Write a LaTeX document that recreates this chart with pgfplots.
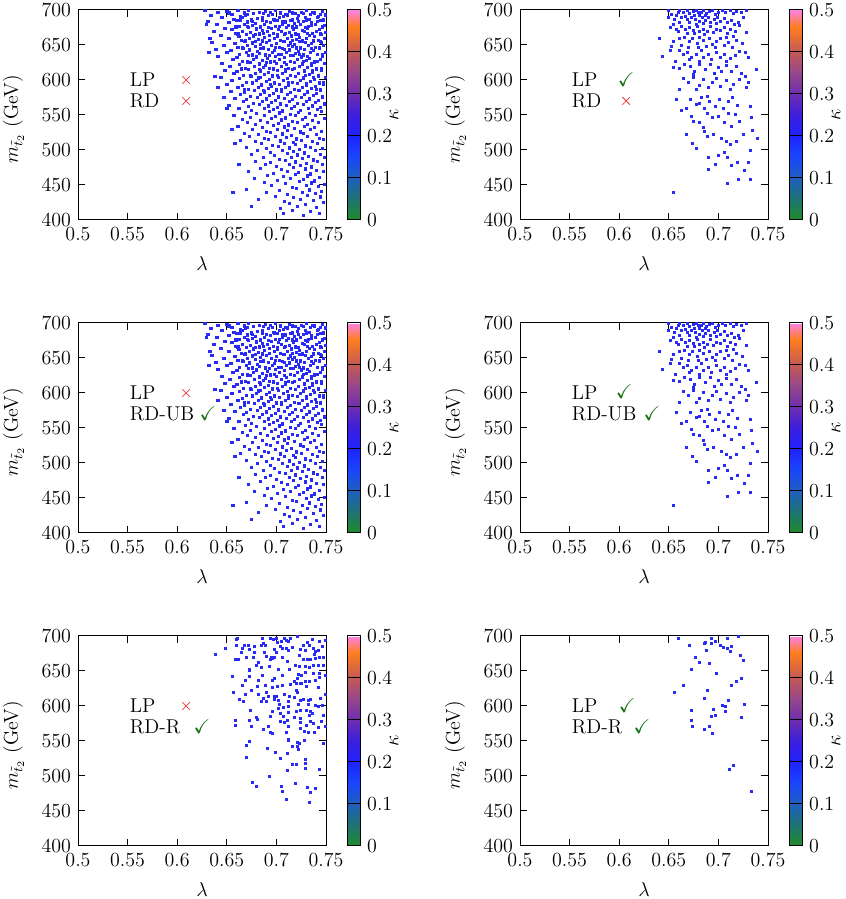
\documentclass[12pt,border=0pt]{standalone}
\usepackage{pgfplots}
\pgfplotsset{compat=1.18}
\usepackage{pgfplotstable}
\usepackage{amssymb}
\definecolor{ptblue}{RGB}{40,42,245}
\definecolor{xred}{RGB}{235,60,60}
\definecolor{ckgreen}{RGB}{20,115,20}
\pgfplotsset{colormap={kappa}{rgb255(0)=(30,140,40) rgb255(5)=(30,115,115) rgb255(10)=(30,95,190)
  rgb255(15)=(25,70,250) rgb255(20)=(30,35,255) rgb255(25)=(60,30,220) rgb255(30)=(110,45,175)
  rgb255(35)=(150,70,140) rgb255(40)=(195,90,85) rgb255(46)=(255,125,30) rgb255(50)=(255,130,230)}}
\pgfplotsset{pan/.style={anchor=south west, scale only axis, width=148.8pt, height=126pt,
    xmin=0.5, xmax=0.75, ymin=400, ymax=700,
    xtick={0.5,0.55,0.6,0.65,0.7,0.75}, xticklabels={0.5,0.55,0.6,0.65,0.7,0.75},
    ytick={400,450,500,550,600,650,700},
    tick align=inside, major tick length=4.2pt,
    axis line style={line width=0.6pt}, tick style={line width=0.6pt, black},
    xlabel={$\lambda$}, ylabel={$m_{\tilde t_2}$\ (GeV)},
    xlabel style={at={(axis description cs:0.5,-0.208)}, anchor=center},
    ylabel style={at={(axis description cs:-0.26,0.48)}, anchor=center},
    colorbar, colormap name=kappa, point meta min=0, point meta max=0.5,
    colorbar style={at={(parent axis.north east)}, anchor=north west, xshift=4.2pt,
      scale only axis, width=7.8pt, height=126pt,
      ytick={0,0.1,0.2,0.3,0.4,0.5}, yticklabels={0,0.1,0.2,0.3,0.4,0.5},
      ytick pos=right, yticklabel pos=right, tick align=inside, major tick length=7.8pt,
      axis line style={line width=0.6pt}, tick style={line width=0.6pt, black},
      ylabel={$\kappa$}, ylabel style={at={(axis description cs:3.6,0.5)}, anchor=center}}},
  dots/.style={only marks, mark=square*, mark size=#1, color=ptblue},
  crs/.style={only marks, mark=x, mark size=3.2pt, color=xred, mark options={line width=0.5pt}},
  chk/.style={only marks, mark=text, text mark={\textcolor{ckgreen}{$\checkmark$}}, color=ckgreen}}
\tikzset{lab/.style={anchor=west, inner sep=0pt}}

% dense scan (panels 1 and 3)
\pgfplotstableread[row sep=\\]{x y\\
0.628 699\\0.641 697\\0.650 698\\0.661 700\\0.668 696\\0.672 699\\0.683 697\\0.689 698\\0.699 700\\0.704 696\\0.713 698\\0.725 697\\0.730 699\\0.738 696\\0.746 698\\
0.634 692\\0.655 694\\0.664 691\\0.669 693\\0.677 695\\0.692 692\\0.696 694\\0.707 691\\0.711 693\\0.719 695\\0.722 692\\0.734 694\\0.742 691\\0.749 693\\
0.645 689\\0.657 687\\0.666 690\\0.675 686\\0.681 688\\0.686 690\\0.697 687\\0.703 689\\0.716 686\\0.721 688\\0.729 690\\0.733 687\\0.741 689\\0.747 686\\
0.631 684\\0.652 682\\0.660 685\\0.671 683\\0.679 681\\0.690 684\\0.694 682\\0.701 685\\0.709 683\\0.718 681\\0.727 684\\0.735 682\\0.744 685\\
0.640 679\\0.663 677\\0.668 680\\0.676 678\\0.684 676\\0.688 679\\0.699 677\\0.706 680\\0.712 678\\0.720 676\\0.724 679\\0.732 677\\0.739 680\\0.748 678\\
0.648 674\\0.655 672\\0.672 675\\0.680 673\\0.686 671\\0.695 674\\0.702 672\\0.710 675\\0.717 673\\0.726 671\\0.731 674\\0.743 672\\
0.637 669\\0.659 667\\0.666 670\\0.674 668\\0.683 666\\0.691 669\\0.697 667\\0.705 670\\0.713 668\\0.719 666\\0.728 669\\0.736 667\\0.740 670\\0.749 668\\
0.644 664\\0.662 662\\0.670 665\\0.677 663\\0.688 661\\0.693 664\\0.701 662\\0.708 665\\0.715 663\\0.723 661\\0.733 664\\0.738 662\\0.745 665\\
0.652 659\\0.665 657\\0.673 660\\0.682 658\\0.686 656\\0.698 659\\0.704 657\\0.711 660\\0.720 658\\0.726 656\\0.730 659\\0.742 657\\0.748 660\\
0.635 654\\0.658 652\\0.668 655\\0.676 653\\0.684 651\\0.690 654\\0.700 652\\0.707 655\\0.714 653\\0.718 651\\0.729 654\\0.735 652\\0.744 655\\
0.647 649\\0.661 647\\0.671 650\\0.679 648\\0.687 646\\0.695 649\\0.703 647\\0.712 650\\0.716 648\\0.724 646\\0.732 649\\0.739 647\\0.747 650\\
0.639 644\\0.654 642\\0.667 645\\0.673 643\\0.681 641\\0.692 644\\0.698 642\\0.706 645\\0.713 643\\0.722 641\\0.728 644\\0.737 642\\0.743 645\\
0.650 639\\0.663 637\\0.670 640\\0.683 638\\0.689 636\\0.696 639\\0.705 637\\0.710 640\\0.719 638\\0.727 636\\0.734 639\\0.741 637\\0.749 640\\
0.641 634\\0.660 632\\0.672 635\\0.680 633\\0.691 631\\0.699 634\\0.708 632\\0.717 635\\0.725 633\\0.733 631\\0.746 634\\
0.656 629\\0.666 627\\0.677 630\\0.686 628\\0.694 626\\0.703 629\\0.714 627\\0.721 630\\0.730 628\\0.738 626\\0.744 629\\
0.645 624\\0.663 622\\0.674 625\\0.683 623\\0.689 621\\0.700 624\\0.710 622\\0.718 625\\0.726 623\\0.735 621\\0.748 624\\
0.653 619\\0.669 617\\0.678 620\\0.687 618\\0.697 616\\0.705 619\\0.712 617\\0.723 620\\0.731 618\\0.740 616\\
0.648 614\\0.660 612\\0.672 615\\0.684 613\\0.692 611\\0.701 614\\0.709 612\\0.716 615\\0.728 613\\0.736 611\\0.745 614\\
0.657 609\\0.667 607\\0.679 610\\0.688 608\\0.696 606\\0.706 609\\0.714 607\\0.722 610\\0.733 608\\0.742 606\\
0.644 604\\0.663 602\\0.675 605\\0.682 603\\0.693 601\\0.702 604\\0.711 602\\0.719 605\\0.727 603\\0.738 601\\0.749 604\\
0.655 599\\0.670 597\\0.680 600\\0.690 598\\0.698 596\\0.707 599\\0.716 597\\0.724 600\\0.734 598\\0.743 596\\
0.650 594\\0.666 592\\0.676 595\\0.685 593\\0.695 591\\0.703 594\\0.712 592\\0.721 595\\0.730 593\\0.739 591\\0.747 594\\
0.661 589\\0.672 587\\0.682 590\\0.692 588\\0.700 586\\0.709 589\\0.718 587\\0.726 590\\0.735 588\\0.744 586\\
0.654 584\\0.668 582\\0.678 585\\0.688 583\\0.697 581\\0.705 584\\0.714 582\\0.723 585\\0.731 583\\0.740 581\\
0.664 579\\0.674 577\\0.684 580\\0.693 578\\0.702 576\\0.711 579\\0.719 577\\0.728 580\\0.737 578\\0.746 576\\
0.658 574\\0.670 572\\0.681 575\\0.690 573\\0.699 571\\0.708 574\\0.716 572\\0.725 575\\0.733 573\\0.742 571\\
0.667 569\\0.677 567\\0.686 570\\0.695 568\\0.704 566\\0.713 569\\0.721 567\\0.730 570\\0.739 568\\0.748 566\\
0.652 564\\0.672 562\\0.683 565\\0.692 563\\0.701 561\\0.710 564\\0.718 562\\0.727 565\\0.736 563\\0.744 561\\
0.662 559\\0.675 557\\0.688 560\\0.697 558\\0.706 556\\0.715 559\\0.724 557\\0.732 560\\0.741 558\\
0.669 554\\0.680 552\\0.693 555\\0.703 553\\0.714 551\\0.722 554\\0.733 552\\0.745 555\\
0.657 549\\0.674 547\\0.688 550\\0.699 548\\0.709 546\\0.719 549\\0.729 547\\0.739 550\\
0.666 544\\0.684 542\\0.695 545\\0.705 543\\0.716 541\\0.726 544\\0.736 542\\0.748 545\\
0.671 539\\0.679 537\\0.691 540\\0.702 538\\0.712 536\\0.721 539\\0.731 537\\0.742 540\\
0.661 534\\0.686 532\\0.697 535\\0.708 533\\0.718 531\\0.728 534\\0.738 532\\
0.676 529\\0.690 527\\0.701 530\\0.711 528\\0.724 526\\0.734 529\\0.745 527\\
0.668 524\\0.682 522\\0.694 525\\0.706 523\\0.715 521\\0.727 524\\0.740 522\\
0.673 519\\0.688 517\\0.699 520\\0.710 518\\0.720 516\\0.731 519\\0.743 517\\
0.664 514\\0.679 512\\0.692 515\\0.704 513\\0.717 511\\0.725 514\\0.736 512\\0.747 515\\
0.685 509\\0.696 507\\0.708 510\\0.719 508\\0.729 506\\0.741 509\\
0.670 504\\0.690 502\\0.702 505\\0.713 503\\0.723 501\\0.734 504\\0.746 502\\
0.681 499\\0.694 497\\0.706 500\\0.717 498\\0.728 496\\0.739 499\\
0.675 494\\0.698 492\\0.711 495\\0.721 493\\0.732 491\\0.744 494\\
0.687 489\\0.703 487\\0.715 490\\0.726 488\\0.737 486\\0.748 489\\
0.679 484\\0.694 482\\0.709 485\\0.719 483\\0.730 481\\0.741 484\\
0.689 479\\0.700 477\\0.713 480\\0.724 478\\0.735 476\\0.746 479\\
0.684 474\\0.705 472\\0.717 475\\0.729 473\\0.740 471\\
0.672 469\\0.697 467\\0.711 470\\0.722 468\\0.734 466\\0.747 469\\
0.691 464\\0.707 462\\0.719 465\\0.731 463\\0.743 461\\
0.678 459\\0.701 457\\0.714 460\\0.727 458\\0.738 456\\
0.688 454\\0.709 452\\0.723 455\\0.735 453\\0.748 451\\
0.695 449\\0.716 447\\0.730 450\\0.742 448\\
0.670 444\\0.703 442\\0.720 445\\0.733 443\\0.745 441\\
0.690 439\\0.711 437\\0.726 440\\0.739 438\\
0.699 434\\0.717 432\\0.731 435\\0.744 433\\
0.682 429\\0.708 427\\0.724 430\\0.737 428\\
0.713 424\\0.729 422\\0.747 425\\
0.675 419\\0.704 417\\0.721 420\\0.740 418\\
0.716 414\\0.734 412\\0.707 409\\0.727 407\\0.743 410\\
0.656 440\\0.662 480\\0.658 510\\0.655 530\\0.650 560\\0.647 575\\0.641 590\\0.638 605\\0.632 640\\0.633 660\\0.627 700\\0.629 680\\
0.652 696\\0.671 694\\0.687 695\\0.694 697\\0.709 694\\0.716 696\\0.727 695\\0.736 697\\0.744 694\\
0.664 686\\0.676 684\\0.686 685\\0.698 686\\0.706 683\\0.714 685\\0.722 684\\0.730 686\\0.741 684\\
0.659 676\\0.671 677\\0.692 675\\0.703 677\\0.716 676\\0.729 675\\0.735 678\\0.746 676\\
0.661 666\\0.679 665\\0.687 667\\0.701 665\\0.709 667\\0.722 665\\0.731 667\\0.744 666\\
0.669 656\\0.679 655\\0.693 657\\0.708 655\\0.716 657\\0.723 655\\0.737 656\\0.745 654\\
0.666 646\\0.684 645\\0.699 647\\0.708 644\\0.720 646\\0.735 645\\0.743 647\\
0.676 636\\0.693 635\\0.702 637\\0.714 635\\0.723 637\\0.731 634\\0.746 637\\
0.671 626\\0.690 625\\0.698 627\\0.708 625\\0.727 627\\0.735 624\\0.741 627\\
0.665 616\\0.683 615\\0.693 617\\0.709 615\\0.718 617\\0.736 614\\0.745 617\\
0.674 606\\0.684 604\\0.701 607\\0.719 605\\0.729 607\\0.737 604\\
0.676 596\\0.694 594\\0.712 597\\0.730 595\\0.747 597\\
0.668 586\\0.687 585\\0.705 587\\0.722 585\\0.740 587\\
}\dataA

% medium scan (panels 2 and 4)
\pgfplotstableread[row sep=\\]{x y\\
0.650 699\\0.653 694\\0.660 696\\0.661 699\\0.665 697\\0.669 699\\0.671 695\\0.675 698\\0.678 700\\0.680 696\\0.683 697\\0.685 700\\0.688 695\\0.691 698\\0.694 699\\0.697 694\\0.700 697\\0.704 700\\0.707 696\\0.712 699\\0.715 695\\0.718 698\\0.723 696\\0.728 700\\0.681 693\\0.687 692\\0.676 692\\0.667 691\\0.658 692\\
0.650 689\\0.656 686\\0.663 689\\0.669 686\\0.673 690\\0.677 687\\0.681 684\\0.684 689\\0.687 685\\0.690 690\\0.692 683\\0.696 687\\0.699 690\\0.702 684\\0.706 688\\0.709 682\\0.713 685\\0.716 680\\0.720 683\\0.725 690\\0.671 682\\0.678 680\\0.685 681\\0.698 681\\0.661 682\\0.655 680\\
0.652 675\\0.658 673\\0.663 677\\0.667 672\\0.671 675\\0.675 671\\0.679 676\\0.681 669\\0.685 673\\0.689 670\\0.692 676\\0.695 668\\0.698 673\\0.702 671\\0.706 675\\0.709 667\\0.712 672\\0.717 669\\0.721 678\\0.728 668\\0.669 666\\0.676 666\\0.686 665\\0.660 669\\0.640 660\\
0.653 648\\0.655 655\\0.661 659\\0.666 661\\0.671 655\\0.674 659\\0.679 653\\0.681 661\\0.685 656\\0.691 659\\0.694 651\\0.698 655\\0.702 660\\0.706 650\\0.710 654\\0.714 647\\0.718 657\\0.724 653\\0.680 647\\0.688 648\\0.670 646\\0.663 650\\0.697 647\\0.708 661\\0.715 662\\
0.652 642\\0.661 643\\0.665 636\\0.669 640\\0.673 632\\0.678 637\\0.683 642\\0.685 632\\0.690 636\\0.693 629\\0.698 640\\0.702 632\\0.706 637\\0.712 631\\0.717 635\\0.721 641\\0.727 639\\0.730 632\\0.643 634\\0.657 627\\0.671 629\\0.681 627\\0.708 627\\
0.655 618\\0.661 616\\0.666 623\\0.672 620\\0.676 612\\0.681 622\\0.687 615\\0.692 623\\0.696 610\\0.700 618\\0.703 612\\0.708 621\\0.713 613\\0.718 620\\0.723 610\\0.727 605\\0.738 615\\0.675 608\\
0.665 602\\0.670 597\\0.675 604\\0.681 593\\0.685 601\\0.690 589\\0.694 596\\0.698 603\\0.702 591\\0.708 599\\0.712 586\\0.715 594\\0.721 601\\0.728 590\\0.730 596\\0.661 587\\0.658 572\\0.678 586\\
0.663 557\\0.668 560\\0.672 572\\0.678 565\\0.683 575\\0.689 577\\0.691 570\\0.697 563\\0.701 573\\0.705 560\\0.710 569\\0.714 575\\0.719 564\\0.732 563\\0.681 567\\0.686 560\\0.673 548\\
0.675 541\\0.681 539\\0.685 532\\0.689 552\\0.694 546\\0.700 548\\0.706 539\\0.710 553\\0.713 534\\0.717 551\\0.721 541\\0.733 546\\0.668 523\\
0.674 510\\0.678 503\\0.686 526\\0.689 520\\0.695 523\\0.703 516\\0.708 512\\0.712 508\\0.718 513\\0.725 523\\0.734 528\\0.739 516\\0.732 499\\
0.690 489\\0.690 473\\0.697 480\\0.700 493\\0.706 496\\0.709 489\\0.713 478\\0.719 482\\0.726 471\\0.730 483\\0.709 453\\0.720 458\\0.732 458\\0.655 439\\
}\dataB

% sparse scan (panel 5)
\pgfplotstableread[row sep=\\]{x y\\
0.661 697\\0.660 695\\0.686 697\\0.694 696\\0.697 695\\0.700 697\\0.708 697\\0.710 694\\0.714 696\\0.721 699\\0.731 691\\0.736 695\\0.743 693\\0.749 694\\0.687 690\\0.705 692\\0.712 692\\0.701 691\\
0.649 683\\0.668 686\\0.672 686\\0.660 687\\0.666 682\\0.673 681\\0.678 685\\0.685 686\\0.689 687\\0.704 685\\0.706 682\\0.710 683\\0.712 679\\0.716 684\\0.724 681\\0.727 686\\0.729 679\\0.733 687\\0.737 682\\0.739 678\\0.742 680\\0.746 685\\0.638 674\\0.665 677\\0.678 677\\0.688 677\\0.700 677\\0.698 681\\0.738 674\\
0.659 666\\0.662 667\\0.670 669\\0.677 670\\0.682 663\\0.690 671\\0.695 669\\0.696 668\\0.694 666\\0.698 670\\0.706 670\\0.711 664\\0.723 672\\0.727 666\\0.731 666\\0.734 667\\0.739 668\\0.743 669\\0.747 669\\0.719 658\\0.723 657\\0.729 657\\0.733 655\\0.737 658\\0.742 658\\0.747 658\\0.680 658\\0.685 655\\0.693 657\\0.673 653\\0.673 651\\
0.702 653\\0.713 652\\0.729 648\\0.737 647\\0.743 647\\0.749 644\\0.722 645\\0.725 644\\0.706 644\\0.698 640\\0.686 644\\0.673 642\\0.656 643\\0.669 637\\0.682 636\\0.696 636\\0.718 635\\0.721 639\\0.724 633\\0.729 635\\0.733 635\\0.739 636\\0.743 641\\0.714 631\\0.720 632\\0.725 632\\
0.666 630\\0.681 628\\0.689 629\\0.696 626\\0.701 628\\0.706 630\\0.730 628\\0.742 627\\0.657 620\\0.675 622\\0.682 617\\0.690 619\\0.698 614\\0.700 614\\0.708 617\\0.721 619\\0.720 622\\0.713 614\\0.718 612\\0.669 616\\0.663 609\\0.667 606\\0.687 611\\0.692 614\\0.698 610\\0.724 608\\0.727 609\\0.732 608\\0.734 609\\0.744 611\\0.749 616\\0.685 606\\0.690 606\\0.702 608\\0.712 607\\
0.703 602\\0.707 598\\0.712 600\\0.722 602\\0.732 602\\0.739 601\\0.742 600\\0.746 601\\0.674 594\\0.696 593\\0.702 596\\0.712 591\\0.734 593\\0.736 590\\0.720 592\\0.724 594\\0.730 594\\0.704 589\\0.707 585\\0.694 585\\0.680 584\\0.724 583\\0.733 587\\0.747 587\\
0.659 579\\0.659 573\\0.673 579\\0.675 571\\0.681 581\\0.687 566\\0.692 571\\0.694 562\\0.696 561\\0.704 578\\0.708 577\\0.712 571\\0.711 580\\0.718 584\\0.724 577\\0.730 572\\0.734 578\\0.737 575\\0.742 569\\0.745 578\\0.749 571\\0.724 568\\0.728 564\\0.732 562\\0.738 562\\0.710 562\\
0.673 549\\0.712 553\\0.712 551\\0.716 542\\0.721 548\\0.722 538\\0.721 543\\0.723 547\\0.728 551\\0.670 544\\0.691 539\\0.747 547\\
0.670 526\\0.699 534\\0.704 525\\0.711 533\\0.716 516\\0.720 517\\0.729 524\\0.729 518\\0.729 511\\0.743 509\\0.711 508\\
0.693 500\\0.676 491\\0.680 485\\0.705 485\\0.706 478\\0.719 489\\0.731 484\\0.739 483\\0.734 477\\0.710 467\\0.733 462\\
}\dataC

% very sparse scan (panel 6)
\pgfplotstableread[row sep=\\]{x y\\
0.660 697\\0.693 697\\0.697 693\\0.709 696\\0.687 691\\0.686 689\\0.693 690\\0.671 686\\0.702 687\\0.705 684\\0.709 682\\0.713 685\\0.712 678\\0.688 679\\0.677 670\\0.681 663\\0.691 661\\0.722 672\\0.725 665\\0.673 652\\0.698 646\\0.723 639\\0.718 635\\0.713 630\\0.665 629\\0.689 622\\0.656 620\\0.686 611\\0.710 608\\0.726 602\\0.704 601\\0.707 600\\0.695 595\\0.707 592\\0.673 594\\0.723 584\\0.693 585\\0.697 586\\0.673 579\\0.674 571\\0.691 571\\0.686 566\\0.694 561\\0.711 509\\0.715 515\\0.733 478\\0.720 699\\
}\dataD

\begin{document}
\begin{tikzpicture}[font=\normalsize]
\path[use as bounding box] (0,0) rectangle (507pt,539.4pt);
% row 1
\begin{axis}[pan, at={(46.8pt,407.4pt)}]
  \addplot[dots=0.68pt] table[x=x, y=y] {\dataA};
  \addplot[crs] coordinates {(0.609,600) (0.609,570)};
  \node[lab] at (axis cs:0.552,600) {LP};
  \node[lab] at (axis cs:0.552,570) {RD};
\end{axis}
\begin{axis}[pan, at={(312pt,407.4pt)}]
  \addplot[dots=0.6pt] table[x=x, y=y] {\dataB};
  \addplot[chk] coordinates {(0.607,601)};
  \addplot[crs] coordinates {(0.607,570)};
  \node[lab] at (axis cs:0.552,600) {LP};
  \node[lab] at (axis cs:0.552,570) {RD};
\end{axis}
% row 2
\begin{axis}[pan, at={(46.8pt,219.6pt)}]
  \addplot[dots=0.68pt] table[x=x, y=y] {\dataA};
  \addplot[crs] coordinates {(0.609,600)};
  \addplot[chk] coordinates {(0.631,571)};
  \node[lab] at (axis cs:0.552,600) {LP};
  \node[lab] at (axis cs:0.552,570) {RD-UB};
\end{axis}
\begin{axis}[pan, at={(312pt,219.6pt)}]
  \addplot[dots=0.6pt] table[x=x, y=y] {\dataB};
  \addplot[chk] coordinates {(0.605,602) (0.633,571)};
  \node[lab] at (axis cs:0.552,600) {LP};
  \node[lab] at (axis cs:0.552,570) {RD-UB};
\end{axis}
% row 3
\begin{axis}[pan, at={(46.8pt,31.8pt)}]
  \addplot[dots=0.6pt] table[x=x, y=y] {\dataC};
  \addplot[crs] coordinates {(0.609,600)};
  \addplot[chk] coordinates {(0.625,571)};
  \node[lab] at (axis cs:0.552,600) {LP};
  \node[lab] at (axis cs:0.552,570) {RD-R};
\end{axis}
\begin{axis}[pan, at={(312pt,31.8pt)}]
  \addplot[dots=0.6pt] table[x=x, y=y] {\dataD};
  \addplot[chk] coordinates {(0.608,601) (0.623,571)};
  \node[lab] at (axis cs:0.552,600) {LP};
  \node[lab] at (axis cs:0.552,570) {RD-R};
\end{axis}
\end{tikzpicture}
\end{document}
